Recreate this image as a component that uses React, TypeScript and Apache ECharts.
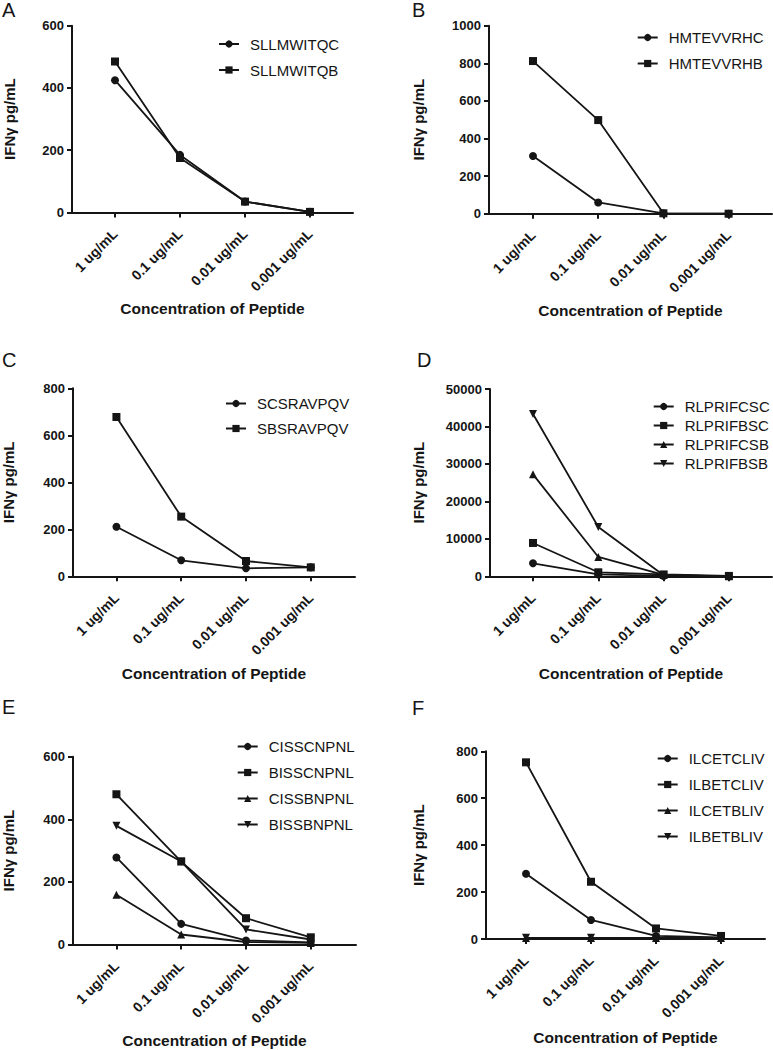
import React, { useEffect, useRef } from "react";
import * as echarts from "echarts";

// ---- data ----
const categories = ["1 ug/mL", "0.1 ug/mL", "0.01 ug/mL", "0.001 ug/mL"];

const panelANames = ["SLLMWITQC", "SLLMWITQB"];
const SLLMWITQC = [425, 185, 35, 2];
const SLLMWITQB = [485, 175, 35, 2];

const panelBNames = ["HMTEVVRHC", "HMTEVVRHB"];
const HMTEVVRHC = [307, 60, 2, 0];
const HMTEVVRHB = [812, 498, 2, 0];

const panelCNames = ["SCSRAVPQV", "SBSRAVPQV"];
const SCSRAVPQV = [211, 68, 34, 38];
const SBSRAVPQV = [678, 254, 65, 38];

const panelDNames = ["RLPRIFCSC", "RLPRIFBSC", "RLPRIFCSB", "RLPRIFBSB"];
const RLPRIFCSC = [3470, 500, 100, 50];
const RLPRIFBSC = [8900, 1070, 500, 100];
const RLPRIFCSB = [27220, 5160, 350, 0];
const RLPRIFBSB = [43330, 13170, 300, 0];

const panelENames = ["CISSCNPNL", "BISSCNPNL", "CISSBNPNL", "BISSBNPNL"];
const CISSCNPNL = [278, 66, 13, 7];
const BISSCNPNL = [480, 265, 84, 23];
const CISSBNPNL = [159, 32, 8, 5];
const BISSBNPNL = [379, 265, 48, 16];

const panelFNames = ["ILCETCLIV", "ILBETCLIV", "ILCETBLIV", "ILBETBLIV"];
const ILCETCLIV = [278, 81, 13, 7];
const ILBETCLIV = [753, 244, 45, 13];
const ILCETBLIV = [4, 4, 4, 4];
const ILBETBLIV = [5, 5, 5, 5];

const yMaxes = [600, 1000, 800, 50000, 600, 800];
const yIntervals = [200, 200, 200, 10000, 200, 200];
const panelLetters = ["A", "B", "C", "D", "E", "F"];

const panelSeries = [
  [SLLMWITQC, SLLMWITQB],
  [HMTEVVRHC, HMTEVVRHB],
  [SCSRAVPQV, SBSRAVPQV],
  [RLPRIFCSC, RLPRIFBSC, RLPRIFCSB, RLPRIFBSB],
  [CISSCNPNL, BISSCNPNL, CISSBNPNL, BISSBNPNL],
  [ILCETCLIV, ILBETCLIV, ILCETBLIV, ILBETBLIV],
];
const panelNames = [panelANames, panelBNames, panelCNames, panelDNames, panelENames, panelFNames];

// ---- layout ----
const layouts = [
  { lx: 2, ly: 0, axisX: 72, axisRight: 353, firstCat: 115, step: 65, top: 25.7, bottom: 212.5, yGap: 55, xGap: 88, lgLeft: 218, lgTop: 36.5, lgGap: 11 },
  { lx: 412, ly: 0, axisX: 489, axisRight: 772, firstCat: 533, step: 65.2, top: 25.7, bottom: 213.7, yGap: 63, xGap: 89, lgLeft: 636.7, lgTop: 30, lgGap: 11 },
  { lx: 2, ly: 350, axisX: 72.5, axisRight: 355, firstCat: 116, step: 64.9, top: 388.3, bottom: 576.3, yGap: 57, xGap: 89, lgLeft: 225, lgTop: 396, lgGap: 10 },
  { lx: 417, ly: 350, axisX: 490, axisRight: 772, firstCat: 533, step: 65.3, top: 389, bottom: 576.3, yGap: 64, xGap: 89, lgLeft: 652.7, lgTop: 399, lgGap: 4 },
  { lx: 2, ly: 697, axisX: 72.5, axisRight: 356, firstCat: 116, step: 64.9, top: 756.7, bottom: 944.5, yGap: 57, xGap: 88, lgLeft: 236.7, lgTop: 739, lgGap: 11 },
  { lx: 412, ly: 698, axisX: 486, axisRight: 765, firstCat: 526, step: 65, top: 751.3, bottom: 939, yGap: 60, xGap: 90, lgLeft: 656.7, lgTop: 751, lgGap: 11 },
];

const FONT = "'Liberation Sans', Arial, Helvetica, sans-serif";
const INK = "#151515";
const symbols = ["circle", "rect", "triangle", "path://M0,0 L10,0 L5,9 Z"];

export default function App() {
  const ref = useRef<HTMLDivElement>(null);
  useEffect(() => {
    if (!ref.current) return;
    const chart = echarts.init(ref.current, undefined, { renderer: "svg" });
    const grid: any[] = [];
    const xAxis: any[] = [];
    const yAxis: any[] = [];
    const series: any[] = [];
    const legend: any[] = [];
    const title: any[] = [];
    layouts.forEach((L, p) => {
      grid.push({ left: L.axisX, top: L.top, width: L.axisRight - L.axisX, height: L.bottom - L.top, containLabel: false });
      const lastCat = L.firstCat + 3 * L.step;
      xAxis.push({
        type: "value",
        gridIndex: p,
        min: (L.axisX - L.firstCat) / L.step,
        max: 3 + (L.axisRight - lastCat) / L.step,
        splitLine: { show: false },
        axisLine: { lineStyle: { color: INK, width: 2 } },
        axisTick: { show: true, customValues: [0, 1, 2, 3], length: 5, lineStyle: { color: INK, width: 2 } },
        axisLabel: {
          customValues: [0, 1, 2, 3],
          rotate: 45,
          margin: 19,
          color: INK,
          fontFamily: FONT,
          fontWeight: "bold",
          fontSize: 14,
          formatter: (v: number) => categories[Math.round(v)] ?? "",
        },
        name: "Concentration of Peptide",
        nameLocation: "middle",
        nameGap: L.xGap,
        nameTextStyle: { fontFamily: FONT, fontWeight: "bold", fontSize: 15.5, color: INK },
      });
      yAxis.push({
        type: "value",
        gridIndex: p,
        min: 0,
        max: yMaxes[p],
        interval: yIntervals[p],
        splitLine: { show: false },
        axisLine: { show: true, onZero: false, lineStyle: { color: INK, width: 2 } },
        axisTick: { show: true, length: 5, lineStyle: { color: INK, width: 2 } },
        axisLabel: {
          margin: 8,
          color: INK,
          fontFamily: FONT,
          fontWeight: "bold",
          fontSize: 13,
          formatter: (v: number) => String(v),
        },
        name: "IFNγ pg/mL",
        nameLocation: "middle",
        nameRotate: 90,
        nameGap: L.yGap,
        nameTextStyle: { fontFamily: FONT, fontWeight: "bold", fontSize: 15, color: INK },
      });
      const names = panelNames[p];
      panelSeries[p].forEach((vals, k) => {
        series.push({
          type: "line",
          name: names[k],
          xAxisIndex: p,
          yAxisIndex: p,
          data: vals.map((v, i) => [i, v]),
          symbol: symbols[k],
          symbolSize: 8,
          showAllSymbol: true,
          lineStyle: { color: INK, width: 1.8 },
          itemStyle: { color: INK },
          emphasis: { disabled: true },
        });
      });
      legend.push({
        data: names,
        orient: "vertical",
        left: L.lgLeft,
        top: L.lgTop,
        padding: 0,
        itemGap: L.lgGap,
        itemWidth: 20,
        itemHeight: 9,
        selectedMode: false,
        textStyle: { fontFamily: FONT, fontSize: 15, color: INK, padding: [0, 0, 0, 6] },
      });
      title.push({
        text: panelLetters[p],
        left: L.lx,
        top: L.ly,
        padding: 0,
        textStyle: { fontFamily: FONT, fontWeight: "normal", fontSize: 20, color: INK },
      });
    });
    chart.setOption({
      animation: false,
      backgroundColor: "#ffffff",
      title,
      grid,
      xAxis,
      yAxis,
      legend,
      series,
      tooltip: { show: false },
    });
    return () => chart.dispose();
  }, []);
  return <div ref={ref} style={{ position: "absolute", left: 0, top: 0, width: 773, height: 1050 }} />;
}
